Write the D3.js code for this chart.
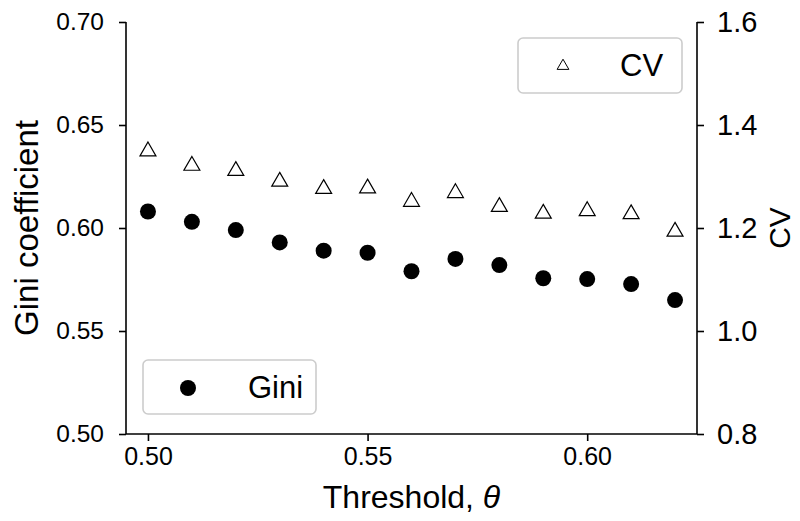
<!DOCTYPE html>
<html>
<head>
<meta charset="utf-8">
<script src="https://cdn.jsdelivr.net/npm/d3@7"></script>
<style>
  body { margin: 0; background: #fff; }
  svg text { font-family: "Liberation Sans", Arial, sans-serif; fill: #000; }
</style>
</head>
<body>
<div id="chart"></div>
<script>
let width = 800
let height = 521

let margins = {
	'top': 22,
	'right': 103,
	'bottom': 87,
	'left': 126,
}

// data
let thresholds = [0.50, 0.51, 0.52, 0.53, 0.54, 0.55, 0.56, 0.57, 0.58, 0.59, 0.60, 0.61, 0.62]
let gini = [0.608, 0.603, 0.599, 0.593, 0.589, 0.588, 0.579, 0.585, 0.582, 0.5756, 0.5752, 0.5728, 0.565]
let cv = [1.351, 1.323, 1.313, 1.292, 1.278, 1.279, 1.253, 1.270, 1.243, 1.230, 1.235, 1.229, 1.195]

let xTicks = [0.50, 0.55, 0.60]
let giniTicks = [0.50, 0.55, 0.60, 0.65, 0.70]
let cvTicks = [0.8, 1.0, 1.2, 1.4, 1.6]

let innerW = width - margins.left - margins.right
let innerH = height - margins.top - margins.bottom

let xScale = d3.scaleLinear()
	.domain([0.495, 0.625])
	.range([0, innerW])

let yLeft = d3.scaleLinear()
	.domain([0.50, 0.70])
	.range([innerH, 0])

let yRight = d3.scaleLinear()
	.domain([0.8, 1.6])
	.range([innerH, 0])

let svg = d3.select('#chart').append('svg')
	.attr('width', width)
	.attr('height', height)

let inner = svg.append('g')
	.attr('transform', 'translate(' + margins.left + ',' + margins.top + ')')

// axes
let xAxis = d3.axisBottom(xScale)
	.tickValues(xTicks)
	.tickFormat(d3.format('.2f'))
	.tickSize(7)
	.tickPadding(6)

let leftAxis = d3.axisLeft(yLeft)
	.tickValues(giniTicks)
	.tickFormat(d3.format('.2f'))
	.tickSize(7)
	.tickPadding(15)

let rightAxis = d3.axisRight(yRight)
	.tickValues(cvTicks)
	.tickFormat(d3.format('.1f'))
	.tickSize(7)
	.tickPadding(13)

let gx = inner.append('g')
	.attr('transform', `translate(0,${innerH})`)
	.call(xAxis)
gx.selectAll('text').style('font-size', '25px')

let gl = inner.append('g').call(leftAxis)
gl.selectAll('text').style('font-size', '24.5px')

let gr = inner.append('g')
	.attr('transform', `translate(${innerW},0)`)
	.call(rightAxis)
gr.selectAll('text').style('font-size', '29px')

inner.selectAll('.domain, .tick line')
	.attr('stroke', '#000')
	.attr('stroke-width', 1.6)

// the axis paths draw outer ticks, replace with plain spines
inner.selectAll('.domain').remove()
inner.append('line')
	.attr('x1', 0).attr('x2', 0).attr('y1', 0).attr('y2', innerH)
	.attr('stroke', '#000').attr('stroke-width', 1.6)
inner.append('line')
	.attr('x1', innerW).attr('x2', innerW).attr('y1', 0).attr('y2', innerH)
	.attr('stroke', '#000').attr('stroke-width', 1.6)
inner.append('line')
	.attr('x1', 0).attr('x2', innerW).attr('y1', innerH).attr('y2', innerH)
	.attr('stroke', '#000').attr('stroke-width', 1.6)

// axis labels
svg.append('text')
	.attr('x', margins.left + innerW / 2)
	.attr('y', 508)
	.attr('text-anchor', 'middle')
	.style('font-size', '32px')
	.text('Threshold, ')
	.append('tspan')
	.style('font-style', 'italic')
	.text('θ')

svg.append('text')
	.attr('transform', `translate(38,${margins.top + innerH / 2}) rotate(-90)`)
	.attr('text-anchor', 'middle')
	.style('font-size', '33px')
	.text('Gini coefficient')

svg.append('text')
	.attr('transform', `translate(790,${margins.top + innerH / 2}) rotate(-90)`)
	.attr('text-anchor', 'middle')
	.style('font-size', '30px')
	.text('CV')

// marks
let tri = d3.symbol().type(d3.symbolTriangle)

inner.append('g').selectAll('path')
	.data(thresholds)
	.enter().append('path')
	.attr('d', tri.size(110))
	.attr('transform', (d, i) => `translate(${xScale(d)},${yRight(cv[i]) + 1})`)
	.attr('fill', '#fff')
	.attr('stroke', '#000')
	.attr('stroke-width', 1.2)

inner.append('g').selectAll('circle')
	.data(thresholds)
	.enter().append('circle')
	.attr('cx', (d) => xScale(d))
	.attr('cy', (d, i) => yLeft(gini[i]))
	.attr('r', 8)
	.attr('fill', '#000')

// legends
let legCV = svg.append('g')
legCV.append('rect')
	.attr('x', 518).attr('y', 38).attr('width', 164).attr('height', 55)
	.attr('rx', 5)
	.attr('fill', '#fff').attr('fill-opacity', 0.8)
	.attr('stroke', '#ccc').attr('stroke-width', 1.6)
legCV.append('path')
	.attr('d', d3.symbol().type(d3.symbolTriangle).size(60)())
	.attr('transform', 'translate(563,66)')
	.attr('fill', '#fff').attr('stroke', '#000').attr('stroke-width', 1)
legCV.append('text')
	.attr('x', 620).attr('y', 76)
	.style('font-size', '31px')
	.text('CV')

let legG = svg.append('g')
legG.append('rect')
	.attr('x', 143).attr('y', 360).attr('width', 173).attr('height', 54)
	.attr('rx', 5)
	.attr('fill', '#fff').attr('fill-opacity', 0.8)
	.attr('stroke', '#ccc').attr('stroke-width', 1.6)
legG.append('circle')
	.attr('cx', 188).attr('cy', 388).attr('r', 8)
	.attr('fill', '#000')
legG.append('text')
	.attr('x', 248).attr('y', 398)
	.style('font-size', '31px')
	.text('Gini')
</script>
</body>
</html>
